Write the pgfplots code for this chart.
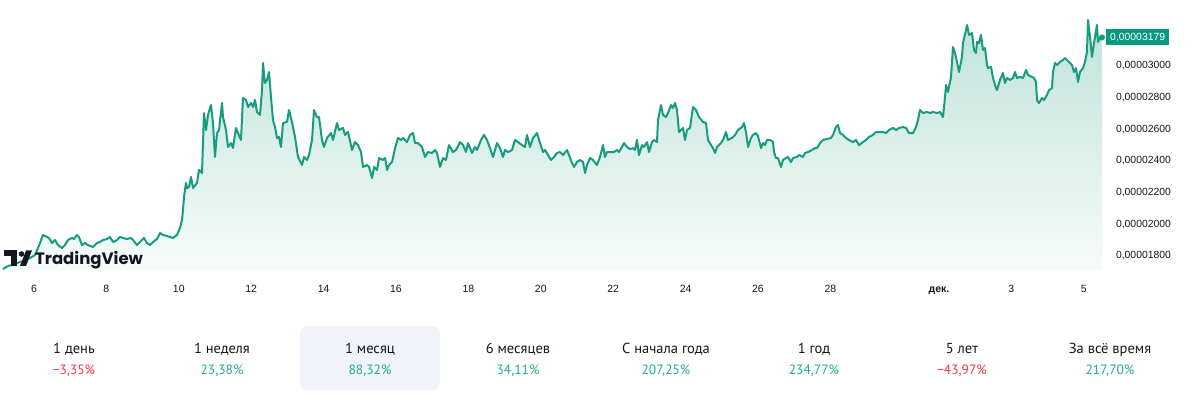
\documentclass[border=0pt]{standalone}
\usepackage{fontspec}
\setmainfont{Liberation Sans}
\newfontfamily\ptsans{PT Sans}
\newfontfamily\logofont{Poppins}
\usepackage{pgfplots}
\usepackage{pgfplotstable}
\pgfplotsset{compat=1.18}
\definecolor{tvline}{HTML}{179C82}
\definecolor{tvlabel}{HTML}{089981}
\definecolor{tvgreen}{HTML}{22AB94}
\definecolor{tvred}{HTML}{F23645}
\definecolor{tvtext}{HTML}{131722}
\definecolor{tvbox}{HTML}{F0F3FA}
\definecolor{filltop}{HTML}{BFE3D9}
\definecolor{fillbot}{HTML}{F7FBFA}

\pgfplotstableread{
x y
5.14 1718
5.282 1737
5.393 1743
5.613 1762
5.89 1787
6.028 1806
6.11 1851
6.166 1882
6.249 1933
6.304 1926
6.359 1920
6.415 1914
6.497 1882
6.58 1901
6.663 1869
6.774 1850
6.856 1869
6.939 1901
7.05 1914
7.105 1907
7.188 1933
7.243 1920
7.326 1869
7.409 1882
7.492 1869
7.63 1857
7.74 1882
7.823 1888
7.906 1901
8.017 1907
8.1 1920
8.183 1888
8.293 1901
8.376 1920
8.459 1914
8.569 1907
8.68 1914
8.735 1901
8.846 1869
8.928 1888
9.039 1914
9.122 1882
9.205 1869
9.288 1888
9.398 1907
9.481 1945
9.564 1933
9.674 1926
9.757 1920
9.84 1914
9.95 1933
10.033 1977
10.089 2027
10.116 2090
10.144 2172
10.199 2261
10.227 2229
10.282 2235
10.337 2299
10.392 2229
10.503 2261
10.558 2343
10.641 2324
10.696 2702
10.752 2595
10.807 2690
10.89 2753
10.945 2639
11.0 2425
11.056 2576
11.111 2595
11.194 2766
11.221 2677
11.304 2595
11.359 2488
11.442 2513
11.497 2482
11.58 2608
11.635 2576
11.718 2532
11.773 2797
11.856 2785
11.912 2740
11.995 2766
12.05 2740
12.105 2785
12.16 2709
12.243 2690
12.299 2847
12.326 3018
12.381 2892
12.437 2911
12.492 2961
12.547 2803
12.602 2658
12.658 2614
12.713 2545
12.768 2551
12.823 2488
12.879 2639
12.989 2646
13.044 2721
13.127 2646
13.21 2551
13.293 2425
13.404 2374
13.459 2425
13.542 2406
13.597 2437
13.68 2532
13.735 2721
13.818 2677
13.873 2677
13.956 2532
14.011 2488
14.094 2545
14.205 2576
14.26 2532
14.37 2639
14.426 2595
14.536 2608
14.591 2564
14.674 2583
14.785 2469
14.868 2519
14.951 2500
15.034 2456
15.089 2362
15.2 2374
15.256 2362
15.339 2292
15.394 2362
15.477 2343
15.532 2418
15.643 2406
15.698 2418
15.753 2343
15.808 2374
15.891 2393
15.974 2481
16.057 2545
16.14 2532
16.194 2545
16.304 2519
16.387 2564
16.47 2576
16.525 2513
16.608 2513
16.718 2488
16.801 2425
16.884 2456
16.995 2450
17.077 2469
17.133 2450
17.216 2362
17.299 2418
17.381 2406
17.464 2500
17.575 2456
17.658 2469
17.768 2519
17.851 2500
17.934 2456
17.989 2513
18.1 2450
18.182 2488
18.238 2469
18.348 2532
18.431 2564
18.514 2532
18.597 2481
18.68 2425
18.79 2513
18.873 2481
18.956 2425
19.011 2469
19.094 2456
19.205 2469
19.288 2532
19.37 2519
19.481 2500
19.564 2488
19.619 2564
19.702 2488
19.785 2545
19.895 2576
19.978 2513
20.061 2456
20.116 2469
20.199 2437
20.282 2406
20.365 2425
20.448 2450
20.53 2456
20.613 2437
20.724 2469
20.779 2437
20.862 2387
20.917 2362
21.0 2393
21.083 2406
21.166 2393
21.221 2324
21.276 2374
21.359 2418
21.442 2406
21.552 2374
21.635 2425
21.718 2500
21.773 2425
21.828 2456
21.939 2456
22.022 2456
22.105 2469
22.16 2456
22.243 2488
22.298 2513
22.381 2488
22.464 2475
22.547 2481
22.602 2469
22.657 2532
22.713 2437
22.796 2500
22.851 2488
22.934 2519
22.989 2456
23.072 2519
23.127 2532
23.21 2519
23.237 2658
23.32 2753
23.375 2690
23.458 2677
23.514 2702
23.597 2753
23.652 2734
23.707 2766
23.762 2721
23.818 2582
23.928 2608
23.983 2532
24.039 2595
24.121 2608
24.204 2740
24.287 2721
24.37 2677
24.481 2646
24.564 2639
24.619 2532
24.702 2500
24.757 2481
24.812 2450
24.868 2488
24.978 2513
25.033 2532
25.116 2582
25.171 2532
25.282 2545
25.365 2564
25.448 2595
25.558 2614
25.613 2639
25.669 2582
25.724 2488
25.807 2545
25.862 2564
25.945 2576
26.0 2557
26.083 2481
26.138 2513
26.194 2500
26.249 2532
26.332 2532
26.415 2519
26.442 2456
26.497 2418
26.553 2418
26.635 2362
26.691 2406
26.774 2418
26.829 2425
26.912 2393
26.967 2418
27.078 2425
27.133 2437
27.243 2425
27.299 2450
27.381 2456
27.492 2469
27.575 2481
27.63 2481
27.713 2513
27.796 2532
27.906 2538
28.017 2545
28.072 2564
28.155 2614
28.21 2627
28.265 2576
28.348 2564
28.431 2545
28.514 2532
28.624 2519
28.707 2532
28.79 2500
28.901 2519
28.983 2532
29.066 2551
29.177 2564
29.26 2582
29.343 2582
29.453 2582
29.536 2576
29.619 2595
29.729 2608
29.812 2595
29.895 2608
30.006 2614
30.089 2608
30.171 2576
30.282 2576
30.365 2614
30.42 2658
30.475 2721
30.558 2702
30.669 2709
30.751 2702
30.834 2709
30.945 2702
31.028 2709
31.111 2677
31.166 2803
31.194 2879
31.249 2835
31.332 2930
31.387 3119
31.442 3081
31.498 3024
31.553 2961
31.636 3056
31.663 3144
31.746 3226
31.774 3258
31.829 3195
31.912 3207
31.967 3100
32.022 3081
32.05 3150
32.105 3144
32.16 3195
32.215 3100
32.271 3112
32.326 3005
32.354 2986
32.437 2993
32.492 2923
32.547 2879
32.602 2847
32.685 2911
32.768 2955
32.823 2892
32.879 2923
32.962 2911
33.045 2923
33.1 2961
33.155 2923
33.238 2930
33.321 2923
33.404 2974
33.459 2942
33.57 2930
33.625 2923
33.68 2898
33.707 2784
33.762 2765
33.845 2797
33.9 2784
33.983 2816
34.039 2847
34.122 2860
34.149 2961
34.204 3018
34.26 3005
34.343 3024
34.426 3037
34.481 3049
34.536 3037
34.591 3024
34.674 3005
34.729 2961
34.785 2986
34.84 2898
34.895 2961
34.978 2986
35.033 3024
35.088 3087
35.116 3289
35.171 3182
35.226 3056
35.254 3100
35.309 3182
35.364 3258
35.392 3150
35.447 3182
35.503 3179
}\pricedata

\begin{document}
\begin{tikzpicture}
\useasboundingbox (0bp,0bp) rectangle (1200bp,397bp);
\begin{axis}[
  at={(0bp,127bp)}, anchor=south west,
  scale only axis, width=1105bp, height=270bp,
  xmin=5.061, xmax=35.586, ymin=1711.7, ymax=3415.4,
  axis line style={draw=none}, tick style={draw=none},
  clip=false,
  xtick={6,8,10,12,14,16,18,20,22,24,26,28,31,33,35},
  xticklabels={6,8,10,12,14,16,18,20,22,24,26,28,{\bfseries дек.},3,5},
  xticklabel style={anchor=base, yshift=-22.8bp, text=tvtext, font=\fontsize{10.5bp}{12bp}\selectfont},
  ytick={1800,2000,2200,2400,2600,2800,3000},
  yticklabels={{0,00001800},{0,00002000},{0,00002200},{0,00002400},{0,00002600},{0,00002800},{0,00003000}},
  yticklabel pos=right,
  yticklabel style={anchor=west, xshift=7.5bp, text=tvtext, font=\fontsize{10.4bp}{12bp}\selectfont},
]
\addplot[draw=none, top color=filltop, bottom color=fillbot] table[x=x,y=y]{\pricedata} \closedcycle;
\addplot[tvline, line width=2bp, line join=round] table[x=x,y=y]{\pricedata};
\addplot[only marks, mark=*, mark size=2.8bp, color=tvline] coordinates {(35.503,3179)};
\node[anchor=west, fill=tvlabel, text=white, inner xsep=4bp, inner ysep=0bp, minimum height=16bp, xshift=1bp,
      font=\fontsize{10.4bp}{12bp}\selectfont] at (axis cs:35.586,3179) {0,00003179};
\end{axis}
% TradingView logo
\fill[tvtext] (4bp,141bp) rectangle (17bp,146.5bp);
\fill[tvtext] (11bp,131bp) rectangle (17bp,146.5bp);
\fill[tvtext] (21.5bp,143bp) circle (2.8bp);
\fill[tvtext] (20bp,131bp) -- (26bp,146.5bp) -- (32bp,146.5bp) -- (26bp,131bp) -- cycle;
\node[anchor=base west, inner sep=0pt, text=tvtext, font=\logofont\bfseries\fontsize{16.5bp}{20bp}\selectfont] at (35bp,132bp) {TradingView};
% period stats
\fill[tvbox, rounded corners=8bp] (300bp,7bp) rectangle (440bp,71bp);
\foreach \cx/\lab/\val/\col in {74/{1 день}/{−3,35\%}/tvred, 222/{1 неделя}/{23,38\%}/tvgreen, 370/{1 месяц}/{88,32\%}/tvgreen, 518/{6 месяцев}/{34,11\%}/tvgreen, 666/{С начала года}/{207,25\%}/tvgreen, 814/{1 год}/{234,77\%}/tvgreen, 962/{5 лет}/{−43,97\%}/tvred, 1110/{За всё время}/{217,70\%}/tvgreen}{
  \node[anchor=base, inner sep=0pt, text=tvtext, font=\ptsans\fontsize{14.5bp}{16bp}\selectfont] at (\cx bp,43bp) {\lab};
  \node[anchor=base, inner sep=0pt, text=\col, font=\ptsans\fontsize{13.5bp}{16bp}\selectfont] at (\cx bp,23bp) {\val};
}
\end{tikzpicture}
\end{document}
